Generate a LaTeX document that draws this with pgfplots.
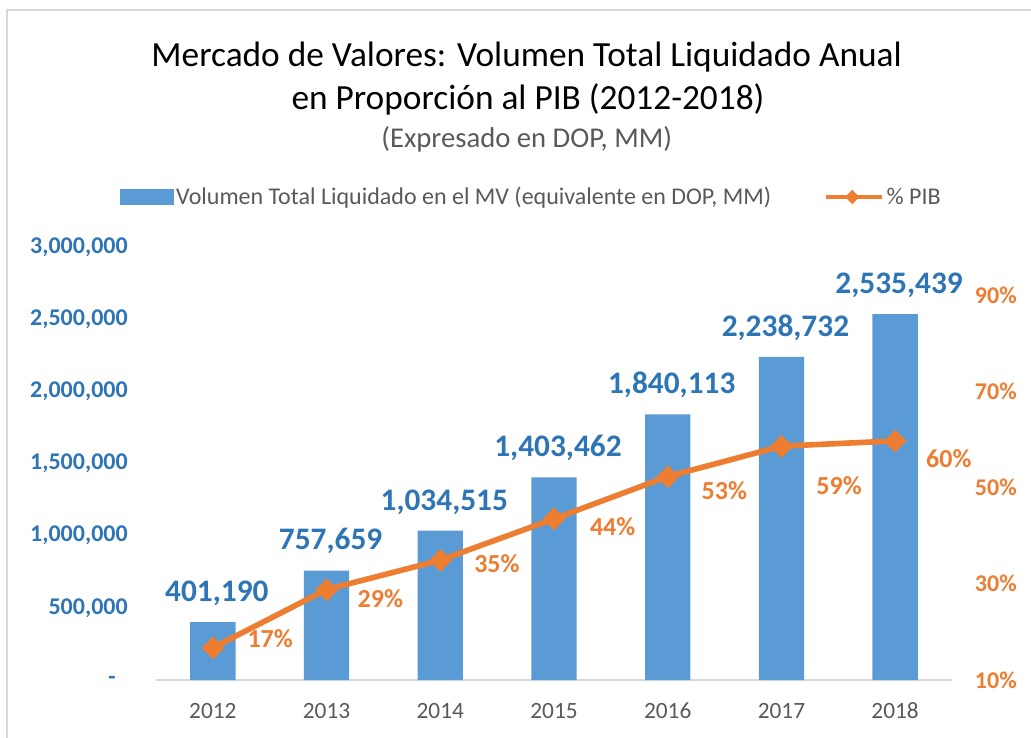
\documentclass[border=0pt]{standalone}
\usepackage{pgfplots}
\pgfplotsset{compat=1.18}
\usepackage{pgfplotstable}
\usepackage{fontspec}
\setmainfont{Carlito}
\definecolor{barblue}{HTML}{5B9BD5}
\definecolor{lblblue}{HTML}{2E75B6}
\definecolor{orng}{HTML}{ED7D31}
\definecolor{tickgray}{HTML}{595959}
\definecolor{axgray}{HTML}{D9D9D9}

\pgfplotstableread{
x vol lbl
0 401190 401,190
1 757659 757,659
2 1034515 1,034,515
3 1403462 1,403,462
4 1840113 1,840,113
5 2238732 2,238,732
6 2535439 2,535,439
}\voltable

\pgfplotstableread{
x pib lbl dx dy
0 16.7 17 26.0 -6.75
1 28.8 29 23.3 6.75
2 34.9 35 25.5 2.25
3 43.5 44 27.0 6.0
4 52.3 53 25.5 10.5
5 58.6 59 26.3 29.3
6 59.7 60 23.3 13.5
}\pibtable

\begin{document}
\begin{tikzpicture}
\useasboundingbox (0,0) rectangle (773.25pt,-553.5pt);
\draw[axgray, line width=1.2pt] (5.25pt,-560pt) -- (5.25pt,-7.5pt) -- (780pt,-7.5pt);
\node[anchor=base, font=\fontsize{26.5}{30}\selectfont, text=black] at (395pt,-50pt) {Mercado de Valores: Volumen Total Liquidado Anual};
\node[anchor=base, font=\fontsize{26.5}{30}\selectfont, text=black] at (396pt,-82pt) {en Proporción al PIB (2012-2018)};
\node[anchor=base, font=\fontsize{21.5}{24}\selectfont, text=tickgray] at (395pt,-110.5pt) {(Expresado en DOP, MM)};

\begin{axis}[
  at={(117pt,-510pt)}, anchor=south west,
  scale only axis, width=597pt, height=324.75pt,
  xmin=-0.5, xmax=6.5, ymin=0, ymax=3000000,
  separate axis lines,
  axis x line*=bottom, axis y line*=left,
  x axis line style={axgray, line width=1pt, -},
  y axis line style={draw=none},
  tick style={draw=none},
  xtick={0,...,6},
  xticklabels={2012,2013,2014,2015,2016,2017,2018},
  xticklabel style={font=\fontsize{17.5}{20}\selectfont, text=tickgray, anchor=base, inner sep=0pt, yshift=-29pt},
  ytick={0,500000,1000000,1500000,2000000,2500000,3000000},
  yticklabels={{-\kern 9pt},{500,000},{1,000,000},{1,500,000},{2,000,000},{2,500,000},{3,000,000}},
  yticklabel style={font=\fontsize{18}{20}\selectfont\bfseries, text=lblblue, anchor=east, inner sep=0pt},
  yticklabel shift=21pt,
  scaled y ticks=false,
]
\addplot[ybar, bar width=34pt, fill=barblue, draw=none,
  nodes near coords, point meta=explicit symbolic,
  nodes near coords style={font=\fontsize{23.5}{26}\selectfont\bfseries, text=lblblue, anchor=base, inner sep=0pt, yshift=15.5pt, xshift=3pt}]
  table[x=x, y=vol, meta=lbl]{\voltable};
\end{axis}

\begin{axis}[
  at={(117pt,-510pt)}, anchor=south west,
  scale only axis, width=597pt, height=324.75pt,
  xmin=-0.5, xmax=6.5, ymin=10, ymax=100,
  axis x line=none, axis y line*=right,
  y axis line style={draw=none},
  tick style={draw=none},
  ytick={10,30,50,70,90},
  yticklabels={10\%,30\%,50\%,70\%,90\%},
  yticklabel style={font=\fontsize{18}{20}\selectfont\bfseries, text=orng, anchor=west, inner sep=0pt},
  yticklabel shift=17pt,
  legend columns=2,
  legend style={at={(0.4717,1.1155)}, anchor=center, draw=none, fill=none,
    font=\fontsize{18}{20}\selectfont, text=tickgray,
    nodes={inner xsep=2pt},
    /tikz/every even column/.append style={column sep=37pt}},
]
\addlegendimage{legend image code/.code={\fill[barblue] (0pt,-5.6pt) rectangle (40pt,5.6pt);}}
\addlegendimage{legend image code/.code={\draw[orng, line width=3.4pt] (0pt,0pt) -- (42pt,0pt); \fill[orng] (20pt,-5pt) -- (25pt,0pt) -- (20pt,5pt) -- (15pt,0pt) -- cycle;}}
\addplot[orng, line width=4.2pt, mark=square*, mark size=5.8pt, mark options={rotate=45, orng, line width=0pt},
  forget plot,
  visualization depends on={\thisrow{dx} \as \dx},
  visualization depends on={\thisrow{dy} \as \dy},
  nodes near coords={\pgfplotspointmeta\%}, point meta=explicit symbolic,
  nodes near coords style={font=\fontsize{19.5}{22}\selectfont\bfseries, text=orng, anchor=west, inner sep=0pt, xshift=\dx pt, yshift=-\dy pt}]
  table[x=x, y=pib, meta=lbl]{\pibtable};
\legend{{Volumen Total Liquidado en el MV (equivalente en DOP, MM)}, {\% PIB}}
\end{axis}
\end{tikzpicture}
\end{document}
